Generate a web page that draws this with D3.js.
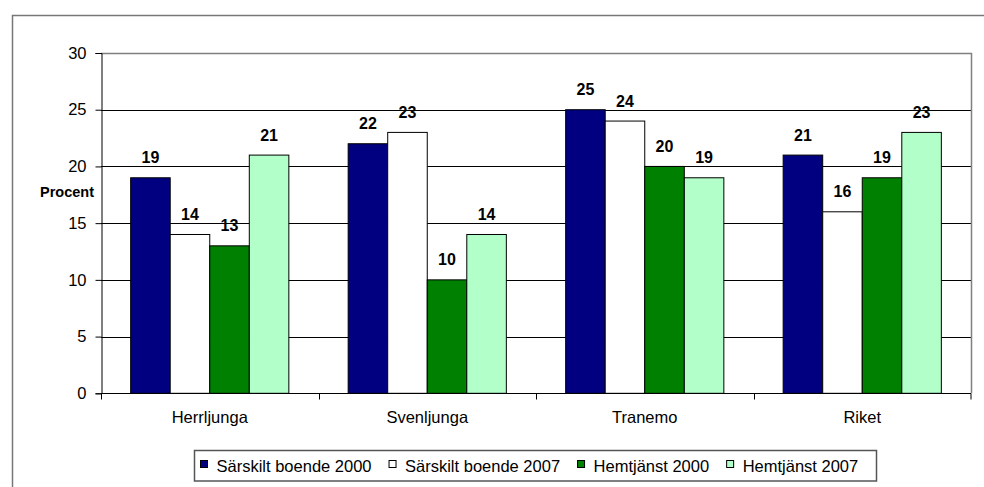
<!DOCTYPE html>
<html>
<head>
<meta charset="utf-8">
<script src="https://d3js.org/d3.v7.min.js"></script>
<style>
  body { margin: 0; background: #fff; }
  svg { display: block; font-family: Arial, "Liberation Sans", sans-serif; }
</style>
</head>
<body>
<script>
var width = 984,
    height = 487;

// data
var categories = ["Herrljunga", "Svenljunga", "Tranemo", "Riket"];
var series = ["Särskilt boende 2000", "Särskilt boende 2007", "Hemtjänst 2000", "Hemtjänst 2007"];
var saerskilt2000 = [19, 22, 25, 21];
var saerskilt2007 = [14, 23, 24, 16];
var hemtjanst2000 = [13, 10, 20, 19];
var hemtjanst2007 = [21, 14, 19, 23];
var yTicks = [0, 5, 10, 15, 20, 25, 30];
var colors = ["#000080", "#ffffff", "#008000", "#b3ffca"];

var values = [saerskilt2000, saerskilt2007, hemtjanst2000, hemtjanst2007];

var rows = categories.map(function(c, i){
    return { cat: c, vals: series.map(function(s, j){ return { s: s, v: values[j][i] }; }) };
});

var svg = d3.select("body").append("svg")
    .attr("width", width)
    .attr("height", height);

// outer chart frame (runs off the right / bottom edge)
svg.append("rect")
    .attr("x", 12.5)
    .attr("y", 15.5)
    .attr("width", 1000)
    .attr("height", 500)
    .attr("fill", "none")
    .attr("stroke", "#777")
    .attr("stroke-width", 1.5);

var plotLeft = 101, plotRight = 971, plotTop = 53, plotBottom = 393.3;

var x = d3.scaleBand()
    .domain(categories)
    .range([plotLeft, plotRight]);

var x1 = d3.scaleBand()
    .domain(series)
    .range([0, x.bandwidth()])
    .paddingOuter(0.75);

var y = d3.scaleLinear()
    .domain([0, 30])
    .range([plotBottom, plotTop]);

// gridlines
svg.append("g")
    .selectAll("line")
    .data(yTicks.filter(function(t){ return t > 0 && t < 30; }))
    .enter().append("line")
    .attr("x1", plotLeft)
    .attr("x2", plotRight)
    .attr("y1", function(d){ return Math.round(y(d)) + 0.5; })
    .attr("y2", function(d){ return Math.round(y(d)) + 0.5; })
    .attr("stroke", "#000")
    .attr("stroke-width", 1);

// plot area border (top & right)
svg.append("path")
    .attr("d", "M" + plotLeft + "," + (plotTop + 0.5) + "H" + (plotRight + 0.5) + "V" + plotBottom)
    .attr("fill", "none")
    .attr("stroke", "#808080")
    .attr("stroke-width", 1.5);

// bars
var groups = svg.selectAll(".grp")
    .data(rows)
    .enter().append("g")
    .attr("class", "grp")
    .attr("transform", function(d){ return "translate(" + x(d.cat) + ",0)"; });

groups.selectAll("rect")
    .data(function(d){ return d.vals; })
    .enter().append("rect")
    .attr("x", function(d){ return x1(d.s); })
    .attr("y", function(d){ return y(d.v); })
    .attr("width", x1.bandwidth())
    .attr("height", function(d){ return y(0) - y(d.v); })
    .attr("fill", function(d, i){ return colors[i]; })
    .attr("stroke", "#000")
    .attr("stroke-width", 1);

groups.selectAll("text")
    .data(function(d){ return d.vals; })
    .enter().append("text")
    .attr("x", function(d){ return x1(d.s) + x1.bandwidth() / 2; })
    .attr("y", function(d){ return y(d.v) - 14.5; })
    .attr("text-anchor", "middle")
    .attr("font-size", "16px")
    .attr("font-weight", "bold")
    .text(function(d){ return d.v; });

// y axis
var yAxis = d3.axisLeft(y)
    .tickValues(yTicks)
    .tickSize(6)
    .tickPadding(9);

var gy = svg.append("g")
    .attr("transform", "translate(" + (plotLeft + 0.5) + ",0)")
    .call(yAxis);
gy.select(".domain").attr("stroke", "#000");
gy.selectAll(".tick line").attr("stroke", "#000");
gy.selectAll(".tick text")
    .attr("font-size", "16.5px")
    .attr("font-family", "Arial, 'Liberation Sans', sans-serif")
    .attr("fill", "#000");

// x axis
var xAxis = d3.axisBottom(x)
    .tickSize(0)
    .tickPadding(18);

var gx = svg.append("g")
    .attr("transform", "translate(0," + (Math.round(plotBottom) + 0.5) + ")")
    .call(xAxis);
gx.select(".domain").attr("stroke", "#000").attr("d", "M" + plotLeft + ",0H" + plotRight);
gx.selectAll(".tick text")
    .attr("font-size", "16.5px")
    .attr("font-family", "Arial, 'Liberation Sans', sans-serif")
    .attr("fill", "#000");

// category boundary ticks
gx.selectAll(".bnd")
    .data(categories.concat(["end"]))
    .enter().append("line")
    .attr("class", "bnd")
    .attr("x1", function(d){ return d === "end" ? plotRight : Math.round(x(d)) + 0.5; })
    .attr("x2", function(d){ return d === "end" ? plotRight : Math.round(x(d)) + 0.5; })
    .attr("y1", 0)
    .attr("y2", 6)
    .attr("stroke", "#000");

// y title
svg.append("text")
    .attr("x", 94)
    .attr("y", 196.5)
    .attr("text-anchor", "end")
    .attr("font-size", "14.5px")
    .attr("font-weight", "bold")
    .text("Procent");

// legend
var legend = svg.append("g");

legend.append("rect")
    .attr("x", 194.5)
    .attr("y", 450.5)
    .attr("width", 682)
    .attr("height", 30.5)
    .attr("fill", "#fff")
    .attr("stroke", "#555")
    .attr("stroke-width", 1.5);

var cursor = 200;
series.forEach(function(s, i){
    legend.append("rect")
        .attr("x", cursor + 0.5)
        .attr("y", 460.5)
        .attr("width", 7)
        .attr("height", 7)
        .attr("fill", colors[i])
        .attr("stroke", "#000");
    var t = legend.append("text")
        .attr("x", cursor + 16.5)
        .attr("y", 471.5)
        .attr("font-size", "16.5px")
        .text(s);
    cursor = cursor + 16.5 + t.node().getComputedTextLength() + 17;
});
</script>
</body>
</html>
